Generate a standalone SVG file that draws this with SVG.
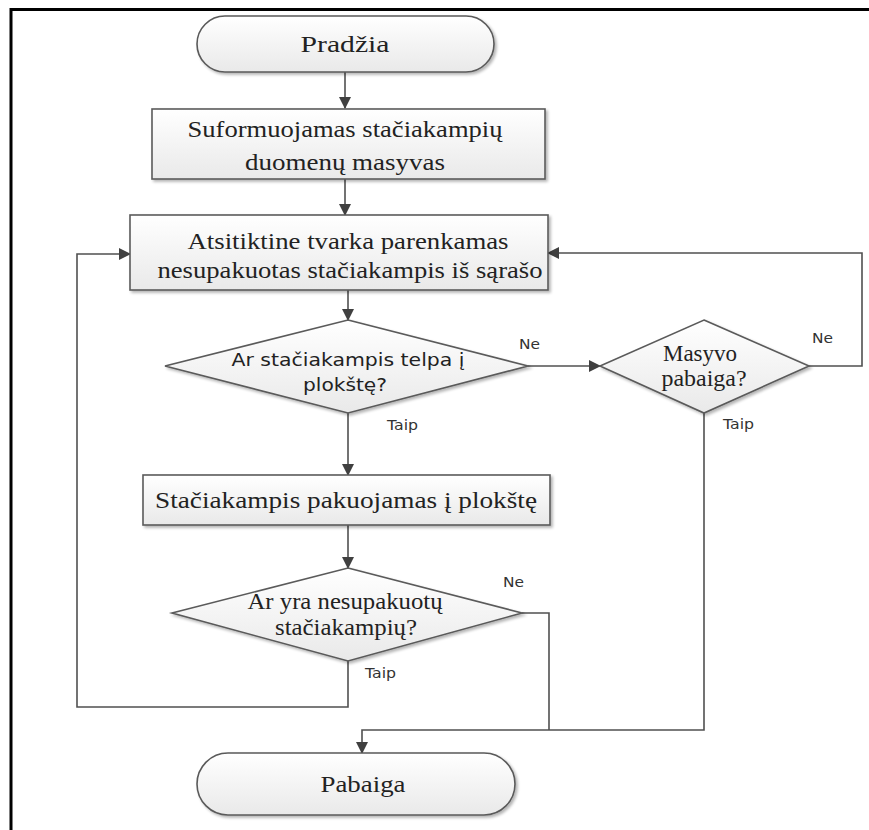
<svg xmlns="http://www.w3.org/2000/svg" width="869" height="830" viewBox="0 0 869 830">
<style>
.shape{fill:url(#g);stroke:#5a5a5a;stroke-width:1.6}
.ln{fill:none;stroke:#505050;stroke-width:1.6}
.serif{font-family:"Liberation Serif","Times New Roman",serif;font-size:24px;fill:#222;text-anchor:middle}
.sans{font-family:"DejaVu Sans","Verdana",sans-serif;font-size:17px;fill:#222;text-anchor:middle}
.lbl{font-family:"DejaVu Sans","Verdana",sans-serif;font-size:14px;fill:#333}
</style>
<defs>
<linearGradient id="g" x1="0" y1="0" x2="0" y2="1">
<stop offset="0" stop-color="#ffffff"/>
<stop offset="1" stop-color="#e9e9e9"/>
</linearGradient>
<filter id="sh" x="-5%" y="-5%" width="115%" height="125%">
<feGaussianBlur in="SourceAlpha" stdDeviation="1.5"/>
<feOffset dx="2" dy="2" result="b"/>
<feComponentTransfer><feFuncA type="linear" slope="0.3"/></feComponentTransfer>
<feMerge><feMergeNode/><feMergeNode in="SourceGraphic"/></feMerge>
</filter>
<marker id="arr" markerWidth="12" markerHeight="12" refX="11" refY="6" orient="auto" markerUnits="userSpaceOnUse">
<path d="M0,0 L12,6 L0,12 z" fill="#404040"/>
</marker>
</defs>
<rect width="869" height="830" fill="#ffffff"/>
<path d="M11,830 V9.5 H869" fill="none" stroke="#000" stroke-width="3"/>
<g id="connectors">
<path class="ln" d="M345,72 V108" marker-end="url(#arr)"/>
<path class="ln" d="M345,179 V215" marker-end="url(#arr)"/>
<path class="ln" d="M348,290 V320" marker-end="url(#arr)"/>
<path class="ln" d="M528,366 H600" marker-end="url(#arr)"/>
<path class="ln" d="M809,366 H862 V253 H548" marker-end="url(#arr)"/>
<path class="ln" d="M348,413 V475" marker-end="url(#arr)"/>
<path class="ln" d="M348,525 V568" marker-end="url(#arr)"/>
<path class="ln" d="M348,661 V707 H77 V254 H130" marker-end="url(#arr)"/>
<path class="ln" d="M522,613 H549 V730"/>
<path class="ln" d="M704,413 V730 H362 V753" marker-end="url(#arr)"/>
<text class="lbl" x="519" y="349" textLength="21" lengthAdjust="spacingAndGlyphs">Ne</text>
<text class="lbl" x="387" y="430" textLength="31" lengthAdjust="spacingAndGlyphs">Taip</text>
<text class="lbl" x="812" y="343" textLength="21" lengthAdjust="spacingAndGlyphs">Ne</text>
<text class="lbl" x="723" y="429" textLength="31" lengthAdjust="spacingAndGlyphs">Taip</text>
<text class="lbl" x="503" y="587" textLength="21" lengthAdjust="spacingAndGlyphs">Ne</text>
<text class="lbl" x="365" y="678" textLength="31" lengthAdjust="spacingAndGlyphs">Taip</text>
</g>
<g id="start">
<rect class="shape" filter="url(#sh)" x="197" y="16" width="297" height="56" rx="28" ry="28"/>
<text class="serif" x="345" y="52" textLength="89" lengthAdjust="spacingAndGlyphs">Pradžia</text>
</g>
<g id="box1">
<rect class="shape" filter="url(#sh)" x="152" y="109" width="393" height="70"/>
<text class="serif" x="345" y="137" textLength="315" lengthAdjust="spacingAndGlyphs">Suformuojamas stačiakampių</text>
<text class="serif" x="345" y="170" textLength="200" lengthAdjust="spacingAndGlyphs">duomenų masyvas</text>
</g>
<g id="box2">
<rect class="shape" filter="url(#sh)" x="130" y="215" width="418" height="75"/>
<text class="serif" x="348" y="249" textLength="321" lengthAdjust="spacingAndGlyphs">Atsitiktine tvarka parenkamas</text>
<text class="serif" x="350" y="278" textLength="385" lengthAdjust="spacingAndGlyphs">nesupakuotas stačiakampis iš sąrašo</text>
</g>
<g id="dec1">
<path class="shape" filter="url(#sh)" d="M348,320 L528,366 L348,413 L165,366 Z"/>
<text class="sans" x="348" y="366" textLength="233" lengthAdjust="spacingAndGlyphs">Ar stačiakampis telpa į</text>
<text class="sans" x="345" y="391" textLength="84" lengthAdjust="spacingAndGlyphs">plokštę?</text>
</g>
<g id="dec2">
<path class="shape" filter="url(#sh)" d="M704,320 L809,366 L704,413 L600,366 Z"/>
<text class="serif" x="700" y="361" textLength="74" lengthAdjust="spacingAndGlyphs">Masyvo</text>
<text class="serif" x="704" y="386" textLength="85" lengthAdjust="spacingAndGlyphs">pabaiga?</text>
</g>
<g id="box3">
<rect class="shape" filter="url(#sh)" x="143" y="475" width="407" height="50"/>
<text class="serif" x="346" y="508" textLength="382" lengthAdjust="spacingAndGlyphs">Stačiakampis pakuojamas į plokštę</text>
</g>
<g id="dec3">
<path class="shape" filter="url(#sh)" d="M348,568 L522,613 L348,661 L172,613 Z"/>
<text class="serif" x="345" y="609" textLength="195" lengthAdjust="spacingAndGlyphs">Ar yra nesupakuotų</text>
<text class="serif" x="346" y="635" textLength="142" lengthAdjust="spacingAndGlyphs">stačiakampių?</text>
</g>
<g id="end">
<rect class="shape" filter="url(#sh)" x="197" y="753" width="318" height="62" rx="31" ry="31"/>
<text class="serif" x="363" y="792" textLength="85" lengthAdjust="spacingAndGlyphs">Pabaiga</text>
</g>
</svg>
